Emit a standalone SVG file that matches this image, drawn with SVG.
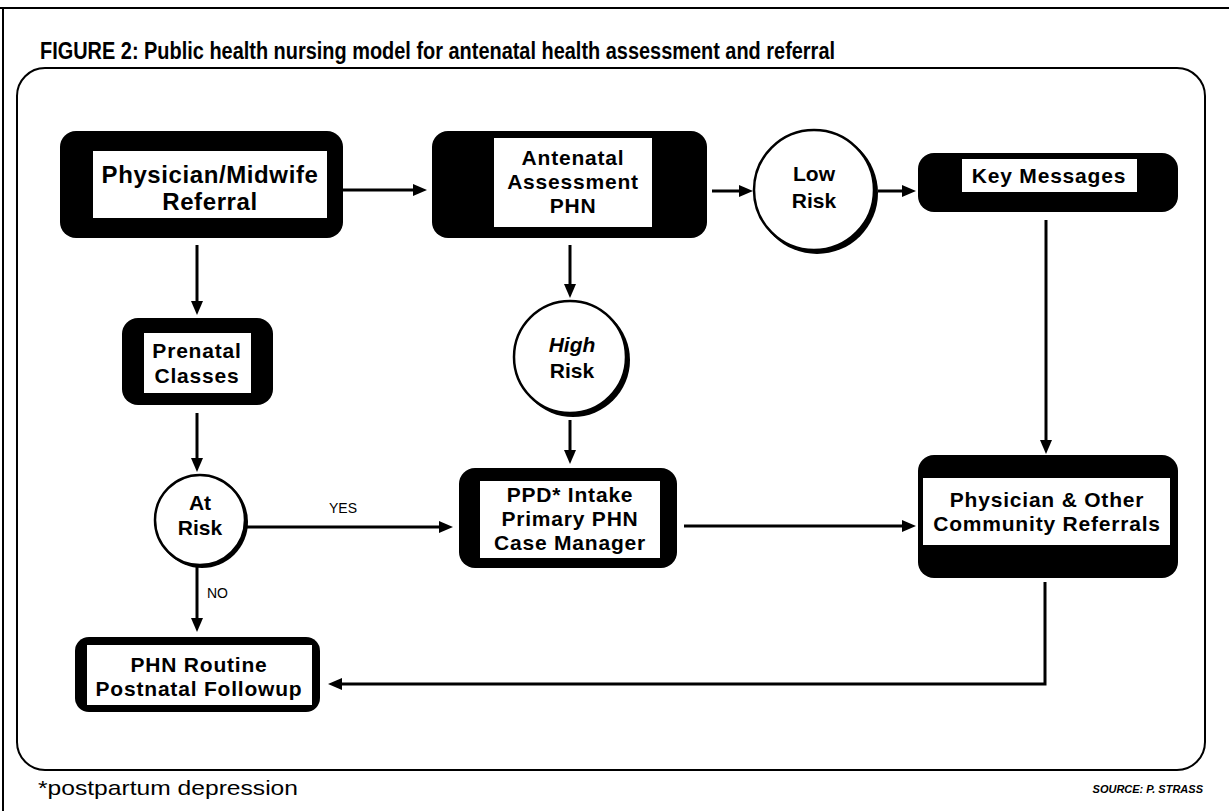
<svg xmlns="http://www.w3.org/2000/svg" width="1229" height="811" viewBox="0 0 1229 811">
<defs>
<marker id="ah" viewBox="0 0 14 12" refX="4" refY="6" markerWidth="14" markerHeight="12" markerUnits="userSpaceOnUse" orient="auto">
<path d="M0,0 L14,6 L0,12 z" fill="#000"/>
</marker>
<style>
.box{fill:#000}
.in{fill:#fff}
.lbl{font-family:"Liberation Sans",Arial,sans-serif;font-weight:bold;font-size:21px;letter-spacing:0.8px;text-anchor:middle;fill:#000}
.ctxt{font-family:"Liberation Sans",Arial,sans-serif;font-weight:bold;font-size:21px;text-anchor:middle;fill:#000}
.circ{fill:#fff;stroke:#000;stroke-width:2.5}
.shadow{fill:#000}
.con{fill:none;stroke:#000;stroke-width:3}
.small{font-family:"Liberation Sans",Arial,sans-serif;font-size:14px;fill:#000}
</style>
</defs>
<rect width="1229" height="811" fill="#fff"/>
<!-- outer frame -->
<path d="M0,8 H1229 M3,8 V811" fill="none" stroke="#000" stroke-width="2"/>
<text x="40" y="59" font-family="'Liberation Sans',Arial,sans-serif" font-weight="bold" font-size="23" textLength="795" lengthAdjust="spacingAndGlyphs">FIGURE 2: Public health nursing model for antenatal health assessment and referral</text>
<rect x="17" y="68" width="1188" height="702" rx="28" fill="none" stroke="#000" stroke-width="2"/>

<g id="connectors">
<line class="con" x1="343" y1="190" x2="417" y2="190" marker-end="url(#ah)"/>
<line class="con" x1="712" y1="191" x2="743" y2="191" marker-end="url(#ah)"/>
<line class="con" x1="878" y1="191" x2="906" y2="191" marker-end="url(#ah)"/>
<line class="con" x1="1046" y1="220" x2="1046" y2="444" marker-end="url(#ah)"/>
<line class="con" x1="197" y1="245" x2="197" y2="305" marker-end="url(#ah)"/>
<line class="con" x1="570" y1="245" x2="570" y2="288" marker-end="url(#ah)"/>
<line class="con" x1="570" y1="420" x2="570" y2="454" marker-end="url(#ah)"/>
<line class="con" x1="197" y1="413" x2="197" y2="462" marker-end="url(#ah)"/>
<line class="con" x1="247" y1="527" x2="443" y2="527" marker-end="url(#ah)"/>
<line class="con" x1="197" y1="567" x2="197" y2="622" marker-end="url(#ah)"/>
<line class="con" x1="684" y1="526" x2="906" y2="526" marker-end="url(#ah)"/>
<path class="con" d="M1045,582 V684 H338" marker-end="url(#ah)"/>
<text class="small" x="343" y="513" text-anchor="middle">YES</text>
<text class="small" x="207" y="598">NO</text>
</g>

<g id="node-physician-midwife">
<rect class="box" x="60" y="131" width="283" height="107" rx="16"/>
<rect class="in" x="93" y="151" width="234" height="67"/>
<text class="lbl" x="210" y="183" style="font-size:24px;letter-spacing:0.6px">Physician/Midwife</text>
<text class="lbl" x="210" y="210" style="font-size:24px;letter-spacing:0.6px">Referral</text>
</g>

<g id="node-antenatal">
<rect class="box" x="432" y="131" width="275" height="107" rx="16"/>
<rect class="in" x="494" y="138" width="158" height="89"/>
<text class="lbl" x="573" y="165">Antenatal</text>
<text class="lbl" x="573" y="189">Assessment</text>
<text class="lbl" x="573" y="213">PHN</text>
</g>

<g id="node-low-risk">
<circle class="shadow" cx="817" cy="193" r="61"/>
<circle class="circ" cx="814" cy="190" r="60"/>
<text class="ctxt" x="814" y="181">Low</text>
<text class="ctxt" x="814" y="208">Risk</text>
</g>

<g id="node-key-messages">
<rect class="box" x="918" y="153" width="260" height="59" rx="16"/>
<rect class="in" x="962" y="159" width="175" height="33"/>
<text class="lbl" x="1049" y="183">Key Messages</text>
</g>

<g id="node-prenatal">
<rect class="box" x="122" y="318" width="151" height="87" rx="16"/>
<rect class="in" x="144" y="333" width="107" height="60"/>
<text class="lbl" x="197" y="358">Prenatal</text>
<text class="lbl" x="197" y="383">Classes</text>
</g>

<g id="node-high-risk">
<circle class="shadow" cx="573" cy="360" r="57"/>
<circle class="circ" cx="570" cy="357" r="56"/>
<text class="ctxt" x="572" y="352" font-style="italic">High</text>
<text class="ctxt" x="572" y="378">Risk</text>
</g>

<g id="node-at-risk">
<circle class="shadow" cx="202" cy="522" r="46"/>
<circle class="circ" cx="200" cy="520" r="45"/>
<text class="ctxt" x="200" y="510">At</text>
<text class="ctxt" x="200" y="535">Risk</text>
</g>

<g id="node-ppd">
<rect class="box" x="459" y="468" width="218" height="100" rx="16"/>
<rect class="in" x="480" y="481" width="180" height="77"/>
<text class="lbl" x="570" y="502">PPD* Intake</text>
<text class="lbl" x="570" y="526">Primary PHN</text>
<text class="lbl" x="570" y="550">Case Manager</text>
</g>

<g id="node-community-referrals">
<rect class="box" x="918" y="455" width="260" height="123" rx="16"/>
<rect class="in" x="923" y="478" width="247" height="67"/>
<text class="lbl" x="1047" y="507">Physician &amp; Other</text>
<text class="lbl" x="1047" y="531">Community Referrals</text>
</g>

<g id="node-phn-routine">
<rect class="box" x="75" y="637" width="245" height="75" rx="14"/>
<rect class="in" x="87" y="645" width="225" height="60"/>
<text class="lbl" x="199" y="672">PHN Routine</text>
<text class="lbl" x="199" y="696">Postnatal Followup</text>
</g>

<text x="38" y="795" font-family="'Liberation Sans',Arial,sans-serif" font-size="21" textLength="260" lengthAdjust="spacingAndGlyphs">*postpartum depression</text>
<text x="1203" y="793" font-family="'Liberation Sans',Arial,sans-serif" font-size="11" font-weight="bold" font-style="italic" text-anchor="end">SOURCE: P. STRASS</text>
</svg>
